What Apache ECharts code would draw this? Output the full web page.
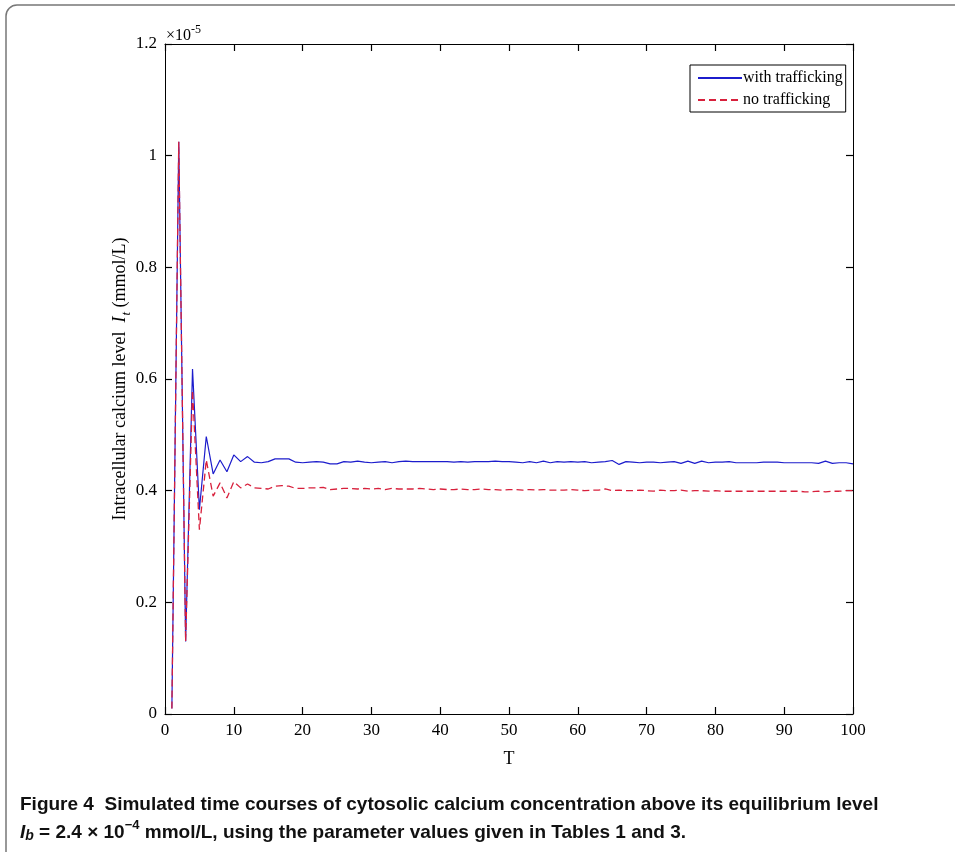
<!DOCTYPE html>
<html>
<head>
<meta charset="utf-8">
<script src="https://cdn.jsdelivr.net/npm/echarts@6/dist/echarts.min.js"></script>
<style>
  html, body { margin: 0; padding: 0; background: #fff; }
  #chart { width: 955px; height: 852px; }
</style>
</head>
<body>
<div id="chart"></div>
<script>
// Time steps T = 1..100
const T = Array.from({ length: 100 }, (_, i) => i + 1);

// Intracellular calcium level, in units of 1e-5 mmol/L
const withTrafficking = [
  0.010, 1.025, 0.130, 0.618, 0.366, 0.497, 0.430, 0.455, 0.434, 0.464,
  0.452, 0.461, 0.451, 0.450, 0.452, 0.457, 0.457, 0.457, 0.451, 0.450,
  0.451, 0.452, 0.451, 0.448, 0.448, 0.452, 0.451, 0.453, 0.451, 0.450,
  0.451, 0.452, 0.450, 0.452, 0.453, 0.452, 0.452, 0.452, 0.452, 0.452,
  0.452, 0.451, 0.452, 0.451, 0.452, 0.452, 0.452, 0.453, 0.452, 0.452,
  0.451, 0.450, 0.452, 0.450, 0.453, 0.450, 0.452, 0.451, 0.452, 0.451,
  0.452, 0.450, 0.451, 0.452, 0.454, 0.447, 0.452, 0.451, 0.450, 0.451,
  0.451, 0.450, 0.451, 0.452, 0.449, 0.453, 0.449, 0.453, 0.450, 0.451,
  0.451, 0.452, 0.450, 0.450, 0.450, 0.450, 0.451, 0.451, 0.451, 0.450,
  0.450, 0.450, 0.450, 0.450, 0.449, 0.453, 0.449, 0.450, 0.450, 0.448
];
const noTrafficking = [
  0.010, 1.025, 0.130, 0.580, 0.330, 0.455, 0.390, 0.414, 0.387, 0.416,
  0.405, 0.412, 0.405, 0.404, 0.403, 0.408, 0.409, 0.408, 0.404, 0.404,
  0.405, 0.405, 0.406, 0.402, 0.403, 0.404, 0.404, 0.403, 0.404, 0.403,
  0.404, 0.402, 0.404, 0.403, 0.403, 0.403, 0.404, 0.403, 0.402, 0.403,
  0.402, 0.402, 0.403, 0.402, 0.402, 0.403, 0.402, 0.402, 0.401, 0.402,
  0.402, 0.401, 0.402, 0.401, 0.402, 0.401, 0.401, 0.401, 0.402, 0.401,
  0.400, 0.401, 0.401, 0.403, 0.400, 0.401, 0.400, 0.400, 0.401, 0.400,
  0.399, 0.401, 0.400, 0.400, 0.401, 0.399, 0.400, 0.400, 0.399, 0.400,
  0.399, 0.399, 0.399, 0.399, 0.399, 0.399, 0.399, 0.399, 0.399, 0.399,
  0.399, 0.399, 0.398, 0.398, 0.399, 0.398, 0.399, 0.399, 0.400, 0.400
];

const seriesNames = ['with trafficking', 'no trafficking'];
const xTicks = { min: 0, max: 100, interval: 10 };
const yTicks = { min: 0, max: 1.2, interval: 0.2 };

const serif = '"Liberation Serif", "DejaVu Serif", serif';
const captionFont = '"Liberation Sans Narrow", "Liberation Sans", "Noto Sans", sans-serif';

const pairs = arr => arr.map((v, i) => [T[i], v]);
const fmtY = v => String(parseFloat(v.toFixed(1)));

const chart = echarts.init(document.getElementById('chart'), null, { renderer: 'canvas' });

// Boxed axes with inward ticks on all four sides
const axisLine = () => ({ show: true, onZero: false, lineStyle: { color: '#000', width: 1 } });
const axisTick = () => ({ show: true, inside: true, length: 7, lineStyle: { color: '#000', width: 1.2 } });

chart.setOption({
  animation: false,
  backgroundColor: '#fff',
  grid: { left: 165, right: 102, top: 44, bottom: 138, containLabel: false },
  legend: {
    data: seriesNames,
    orient: 'vertical',
    left: 690,
    top: 65,
    itemWidth: 44,
    itemHeight: 10,
    itemGap: 6,
    padding: [5, 3, 4, 7],
    borderColor: '#000',
    borderWidth: 1,
    backgroundColor: '#fff',
    itemStyle: { opacity: 0 },
    textStyle: { fontFamily: serif, fontSize: 16, color: '#000', padding: [0, 0, 0, -4] }
  },
  xAxis: [
    {
      type: 'value', position: 'bottom', min: xTicks.min, max: xTicks.max, interval: xTicks.interval,
      name: 'T', nameLocation: 'middle', nameGap: 36, nameMoveOverlap: false,
      nameTextStyle: { fontFamily: serif, fontSize: 18, color: '#000' },
      axisLine: axisLine(), axisTick: axisTick(), splitLine: { show: false },
      axisLabel: { fontFamily: serif, fontSize: 17, color: '#000', margin: 8 }
    },
    {
      type: 'value', position: 'top', min: xTicks.min, max: xTicks.max, interval: xTicks.interval,
      axisLine: axisLine(), axisTick: axisTick(), splitLine: { show: false },
      axisLabel: { show: false }
    }
  ],
  yAxis: [
    {
      type: 'value', position: 'left', min: yTicks.min, max: yTicks.max, interval: yTicks.interval,
      name: '{n|Intracellular calcium level  }{i|I}{s|t}{n| (mmol/L)}',
      nameLocation: 'middle', nameGap: 32, nameRotate: 90, nameMoveOverlap: false,
      nameTextStyle: {
        fontFamily: serif, fontSize: 18, color: '#000',
        rich: {
          n: { fontFamily: serif, fontSize: 18, color: '#000' },
          i: { fontFamily: serif, fontSize: 18, fontStyle: 'italic', color: '#000' },
          s: { fontFamily: serif, fontSize: 13, fontStyle: 'italic', color: '#000', padding: [12, 0, 0, 1] }
        }
      },
      axisLine: axisLine(), axisTick: axisTick(), splitLine: { show: false },
      axisLabel: { fontFamily: serif, fontSize: 17, color: '#000', margin: 8, formatter: fmtY }
    },
    {
      type: 'value', position: 'right', min: yTicks.min, max: yTicks.max, interval: yTicks.interval,
      axisLine: axisLine(), axisTick: axisTick(), splitLine: { show: false },
      axisLabel: { show: false }
    }
  ],
  series: [
    {
      name: seriesNames[0], type: 'line', data: pairs(withTrafficking),
      xAxisIndex: 0, yAxisIndex: 0,
      showSymbol: false, symbol: 'none', z: 3,
      color: '#1c1ccc',
      lineStyle: { color: '#1c1ccc', width: 1.2, type: 'solid' }
    },
    {
      name: seriesNames[1], type: 'line', data: pairs(noTrafficking),
      xAxisIndex: 0, yAxisIndex: 0,
      showSymbol: false, symbol: 'none', z: 4,
      color: '#d8203c',
      lineStyle: { color: '#d8203c', width: 1.3, type: [7, 4] }
    }
  ],
  graphic: [
    // outer rounded frame
    {
      type: 'rect', silent: true, z: -10,
      shape: { x: 6, y: 5, width: 980, height: 880, r: 11 },
      style: { fill: 'none', stroke: '#777', lineWidth: 1.5 }
    },
    // axis exponent
    {
      type: 'text', left: 166, top: 24,
      style: {
        text: '{a|×10}{b|-5}',
        rich: {
          a: { fontFamily: serif, fontSize: 16, fill: '#000', padding: [6, 0, 0, 0] },
          b: { fontFamily: serif, fontSize: 12, fill: '#000', padding: [0, 0, 6, 0] }
        }
      }
    },
    // caption
    {
      type: 'text', left: 20, top: 795,
      style: {
        text: 'Figure 4  Simulated time courses of cytosolic calcium concentration above its equilibrium level',
        fontFamily: captionFont, fontSize: 19, fontWeight: 'bold', fill: '#111'
      }
    },
    {
      type: 'text', left: 20, top: 819,
      style: {
        text: '{i|I}{s|b}{n| = 2.4 × 10}{p|−4}{n| mmol/L, using the parameter values given in Tables 1 and 3.}',
        rich: {
          n: { fontFamily: captionFont, fontSize: 19, fontWeight: 'bold', fill: '#111', padding: [6, 0, 0, 0] },
          i: { fontFamily: captionFont, fontSize: 19, fontWeight: 'bold', fontStyle: 'italic', fill: '#111', padding: [6, 0, 0, 0] },
          s: { fontFamily: captionFont, fontSize: 14, fontWeight: 'bold', fontStyle: 'italic', fill: '#111', padding: [14, 0, 0, 0] },
          p: { fontFamily: captionFont, fontSize: 13, fontWeight: 'bold', fill: '#111', padding: [0, 0, 8, 0] }
        }
      }
    }
  ]
});
</script>
</body>
</html>
